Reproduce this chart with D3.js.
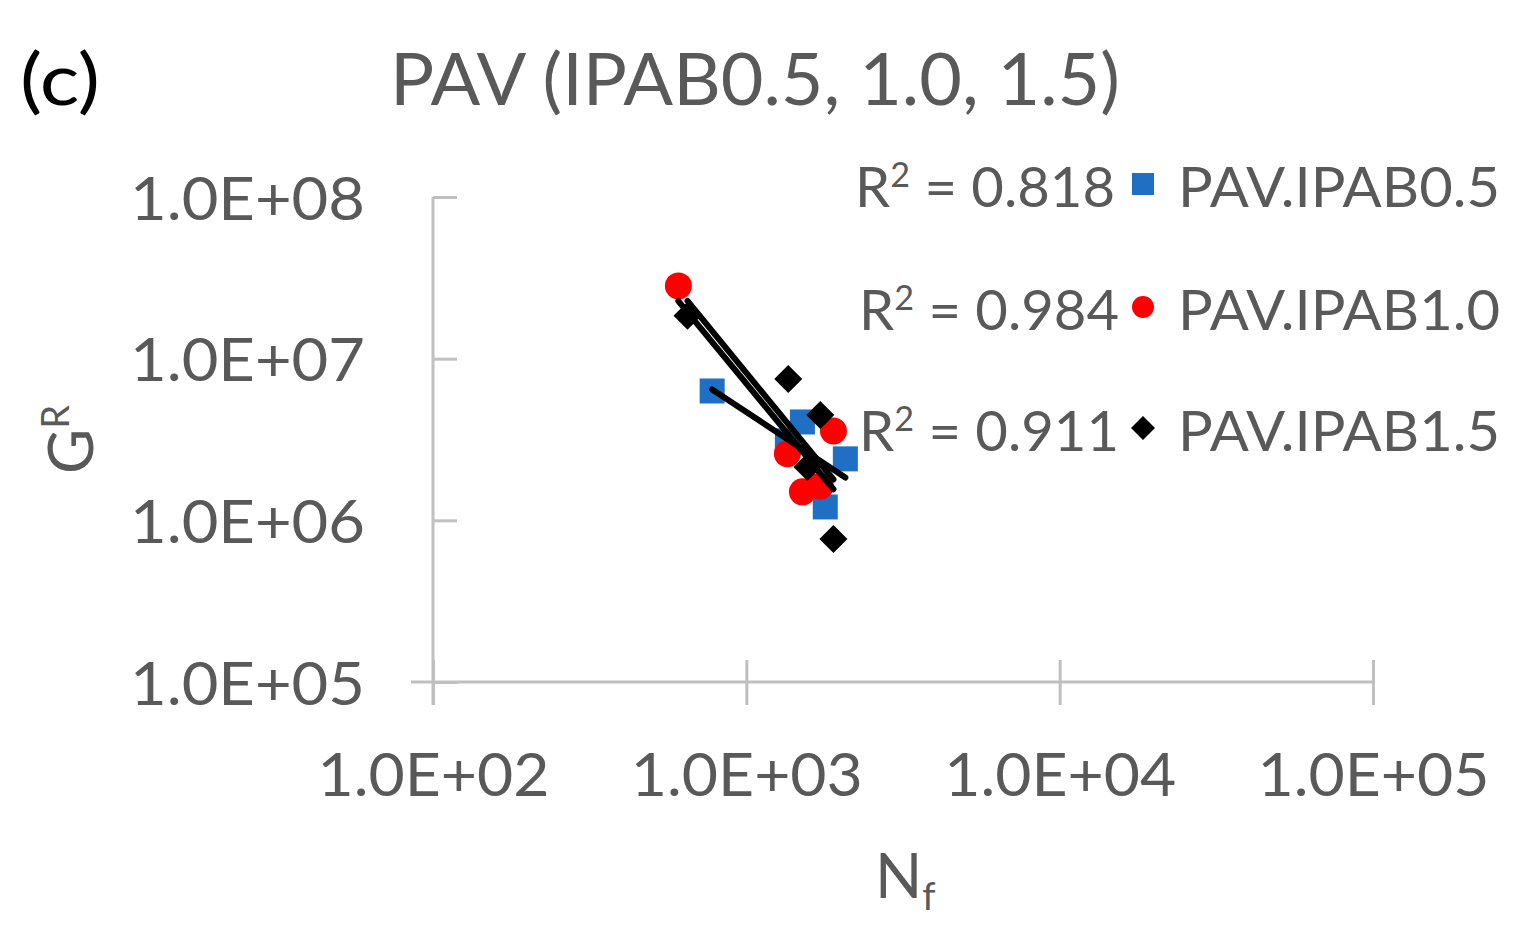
<!DOCTYPE html>
<html><head><meta charset="utf-8">
<script src="https://cdn.jsdelivr.net/npm/d3@7"></script>
<style>body{margin:0;background:#fff}svg{display:block}text{font-family:Lato,"Noto Sans",sans-serif}</style>
</head><body>
<svg id="c" width="1528" height="950"></svg>
<script>
// ---- data ----
const seriesNames = ["PAV.IPAB0.5", "PAV.IPAB1.0", "PAV.IPAB1.5"];
const r2Values = ["0.818", "0.984", "0.911"];
const ipab05_Nf = [778, 1510, 1352, 2070, 1786];
const ipab05_GR = [6.31e6, 4.06e6, 3.10e6, 2.40e6, 1.21e6];
const ipab10_Nf = [607, 1897, 1352, 1510, 1722];
const ipab10_GR = [2.82e7, 3.57e6, 2.58e6, 1.50e6, 1.63e6];
const ipab15_Nf = [649, 1361, 1722, 1567, 1897];
const ipab15_GR = [1.84e7, 7.48e6, 4.49e6, 2.14e6, 7.67e5];
const xTicks = [1e2, 1e3, 1e4, 1e5];
const yTicks = [1e5, 1e6, 1e7, 1e8];
const xTickLabels = ["1.0E+02", "1.0E+03", "1.0E+04", "1.0E+05"];
const yTickLabels = ["1.0E+05", "1.0E+06", "1.0E+07", "1.0E+08"];

const svg = d3.select("#c");
const x = d3.scaleLog().domain([1e2, 1e5]).range([433, 1373]);
const y = d3.scaleLog().domain([1e5, 1e8]).range([682, 197]);
const grey = "#595959", axisCol = "#BFBFBF";

// title + panel letter
svg.append("text").attr("x", 20).attr("y", 105).attr("font-size", 72).attr("fill", "#000")
  .attr("textLength", 80).attr("lengthAdjust", "spacingAndGlyphs").text("(c)");
svg.append("text").attr("x", 390).attr("y", 105).attr("font-size", 72).attr("fill", grey)
  .attr("textLength", 730).attr("lengthAdjust", "spacingAndGlyphs").text("PAV (IPAB0.5, 1.0, 1.5)");

// axes
const xa = svg.append("g").attr("transform", "translate(0,682)")
  .call(d3.axisBottom(x).tickValues(xTicks).tickFormat((d,i)=>xTickLabels[i]).tickSize(23).tickSizeOuter(0));
xa.select(".domain").remove();
xa.selectAll(".tick line").attr("y1", -22).attr("stroke", axisCol).attr("stroke-width", 3);
xa.append("line").attr("x1", 411).attr("x2", 1373).attr("stroke", axisCol).attr("stroke-width", 3);
xa.selectAll(".tick text").attr("y", 114).attr("dy", 0).attr("font-size", 60).attr("fill", grey)
  .attr("textLength", 232).attr("lengthAdjust", "spacingAndGlyphs");

const ya = svg.append("g").attr("transform", "translate(433,0)")
  .call(d3.axisLeft(y).tickValues(yTicks).tickFormat((d,i)=>yTickLabels[i]).tickSize(22).tickSizeOuter(0));
ya.select(".domain").remove();
ya.selectAll(".tick line").attr("x2", 24).attr("stroke", axisCol).attr("stroke-width", 3);
ya.append("line").attr("y1", 197).attr("y2", 705).attr("stroke", axisCol).attr("stroke-width", 3);
ya.selectAll(".tick text").attr("x", -68).attr("dy", 0).attr("y", 22).attr("font-size", 60).attr("fill", grey)
  .attr("textLength", 235).attr("lengthAdjust", "spacingAndGlyphs");

// axis titles
const gt = svg.append("text").attr("transform", "translate(93,474) rotate(-90)").attr("font-size", 62).attr("fill", grey);
gt.append("tspan").text("G");
gt.append("tspan").attr("font-size", 38).attr("dy", -24).text("R");
const nt = svg.append("text").attr("x", 875).attr("y", 898).attr("font-size", 62).attr("fill", grey);
nt.append("tspan").text("N");
nt.append("tspan").attr("font-size", 38).attr("dy", 12).text("f");

// trendlines (power fit in log-log space, drawn over x-range of each series)
function fit(xs, ys) {
  const lx = xs.map(Math.log10), ly = ys.map(Math.log10);
  const mx = d3.mean(lx), my = d3.mean(ly);
  const b = d3.sum(lx, (v,i)=>(v-mx)*(ly[i]-my)) / d3.sum(lx, v=>(v-mx)*(v-mx));
  const a = my - b*mx;
  return [d3.min(xs), d3.max(xs)].map(v => [v, Math.pow(10, a + b*Math.log10(v))]);
}
const series = [
  {nf: ipab05_Nf, gr: ipab05_GR, color: "#1F6FC5", shape: "square"},
  {nf: ipab10_Nf, gr: ipab10_GR, color: "#FF0000", shape: "circle"},
  {nf: ipab15_Nf, gr: ipab15_GR, color: "#000000", shape: "diamond"}
];
function marker(g, shape, color, s) {
  if (shape === "square") g.append("rect").attr("x", -s/2).attr("y", -s/2).attr("width", s).attr("height", s).attr("fill", color);
  else if (shape === "circle") g.append("circle").attr("r", s/2).attr("fill", color);
  else g.append("path").attr("d", `M0,${-s/2}L${s/2},0L0,${s/2}L${-s/2},0Z`).attr("fill", color);
}
series.forEach(s => {
  s.nf.forEach((v,i) => marker(svg.append("g").attr("transform", `translate(${x(v)},${y(s.gr[i])})`), s.shape, s.color, s.shape==="diamond"?28:(s.shape==="circle"?27:25)));
});
const line = d3.line().x(d=>x(d[0])).y(d=>y(d[1]));
series.forEach(s => {
  svg.append("path").attr("d", line(fit(s.nf, s.gr))).attr("stroke", "#000").attr("stroke-width", 6)
    .attr("fill", "none").attr("stroke-linecap", "round");
});

// legend with R² labels
const legY = [207, 330, 451];
series.forEach((s,i) => {
  const t = svg.append("text").attr("x", i===0?855:859).attr("y", legY[i]).attr("font-size", 56).attr("fill", grey)
    .attr("textLength", 260).attr("lengthAdjust", "spacingAndGlyphs");
  t.append("tspan").text("R");
  t.append("tspan").attr("font-size", 34).attr("dy", -20).text("2");
  t.append("tspan").attr("dy", 20).text(" = " + r2Values[i]);
  marker(svg.append("g").attr("transform", `translate(1143,${legY[i]-23})`), s.shape, s.color, s.shape==="diamond"?24:22);
  svg.append("text").attr("x", 1178).attr("y", legY[i]).attr("font-size", 56).attr("fill", grey)
    .attr("textLength", 322).attr("lengthAdjust", "spacingAndGlyphs").text(seriesNames[i]);
});
</script>
</body></html>
